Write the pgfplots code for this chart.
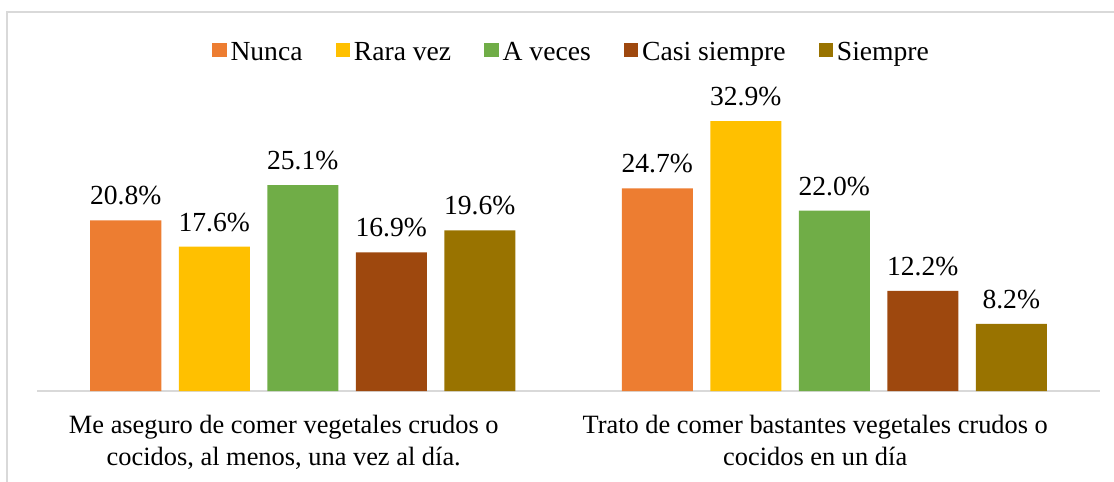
\documentclass[border=0pt]{standalone}
\usepackage{fontspec}
\setmainfont{Liberation Serif}
\usepackage{pgfplots}
\pgfplotsset{compat=1.18}
\definecolor{cNunca}{HTML}{ED7D31}
\definecolor{cRara}{HTML}{FFC000}
\definecolor{cAveces}{HTML}{70AD47}
\definecolor{cCasi}{HTML}{9E480E}
\definecolor{cSiempre}{HTML}{997300}
\definecolor{frameGray}{HTML}{D9D9D9}
\begin{document}
\begin{tikzpicture}[font=\fontsize{13.8pt}{16pt}\selectfont]
\useasboundingbox (0,0) rectangle (557pt,241pt);
\draw[frameGray, line width=0.6pt] (3.5pt,-10pt) rectangle (570pt,235pt);
\begin{axis}[
  at={(18.5pt,45.5pt)}, anchor=south west,
  width=531.5pt, height=164pt, scale only axis=true,
  xmin=-0.5, xmax=1.5, ymin=0, ymax=40,
  ybar=8.75pt, bar width=35.5pt,
  axis x line*=bottom, axis y line=none,
  x axis line style={draw=frameGray, line width=1pt, -},
  xtick={0,1}, major tick length=0pt,
  xticklabels={{Me aseguro de comer vegetales crudos o\\cocidos, al menos, una vez al día.},{Trato de comer bastantes vegetales crudos o\\cocidos en un día}},
  xticklabel style={align=center, font=\fontsize{13.2pt}{16pt}\selectfont, xshift=-9.5pt, yshift=-8.5pt},
  /pgf/number format/assume math mode=true,
  nodes near coords={\pgfmathprintnumber[fixed,fixed zerofill,precision=1]{\pgfplotspointmeta}\%},
  every node near coord/.append style={font=\fontsize{13.8pt}{16pt}\selectfont, anchor=base, inner sep=0pt, yshift=7.8pt, text=black},
  legend columns=5,
  legend style={at={(0.5,1)}, anchor=center, xshift=2pt, yshift=5pt, draw=none, fill=none, font=\fontsize{13.8pt}{16pt}\selectfont, /tikz/every even column/.append style={column sep=14.5pt}},
  legend image code/.code={\fill[#1] (0.5pt,-2pt) rectangle (7.7pt,5.2pt);},
]
\addplot[fill=cNunca, draw=none] coordinates {(0,20.8) (1,24.7)};
\addplot[fill=cRara, draw=none] coordinates {(0,17.6) (1,32.9)};
\addplot[fill=cAveces, draw=none] coordinates {(0,25.1) (1,22.0)};
\addplot[fill=cCasi, draw=none] coordinates {(0,16.9) (1,12.2)};
\addplot[fill=cSiempre, draw=none] coordinates {(0,19.6) (1,8.2)};
\legend{Nunca, Rara vez, A veces, Casi siempre, Siempre}
\end{axis}
\end{tikzpicture}
\end{document}
